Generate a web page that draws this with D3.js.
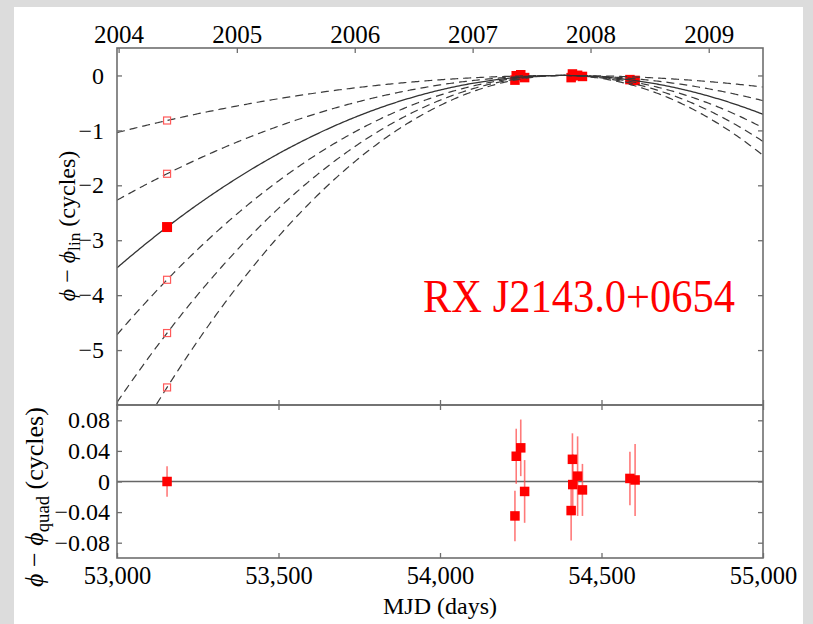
<!DOCTYPE html>
<html>
<head>
<meta charset="utf-8">
<script src="https://cdn.jsdelivr.net/npm/d3@7"></script>
<style>
  html, body { margin: 0; padding: 0; background: #dcdcdc; }
  svg { display: block; }
  text { font-family: "Liberation Serif", "Times New Roman", serif; fill: #000; }
</style>
</head>
<body>
<svg id="chart" width="813" height="624"></svg>
<script>
// Timing observations (MJD) and residuals from the best quadratic ephemeris
const obsMJD   = [53155, 54232, 54236, 54250, 54262, 54406, 54410, 54411, 54426, 54441, 54588, 54604];
const residual = [0.000, -0.045, 0.033, 0.044, -0.013, -0.038, 0.029, -0.004, 0.007, -0.011, 0.004, 0.002];
const residErr = [0.020, 0.033, 0.036, 0.037, 0.041, 0.039, 0.034, 0.040, 0.052, 0.034, 0.035, 0.047];

// Phase at the 2004 epoch for the preferred solution and for the alternative cycle counts
const epoch2004     = 53155;
const bestPhase2004 = -2.76;
const altPhase2004  = [-0.82, -1.79, -3.72, -4.69, -5.68];
const vertexMJD     = 54380;   // MJD where the quadratic solutions peak

// Axis ticks
const mjdTicks    = [53000, 53500, 54000, 54500, 55000];
const yearLabels  = ["2004", "2005", "2006", "2007", "2008", "2009"];
const yearMJD     = [53005, 53371, 53736, 54101, 54466, 54832];
const upperYTicks = [0, -1, -2, -3, -4, -5];
const lowerYTicks = [0.08, 0.04, 0, -0.04, -0.08];
const sourceName  = "RX J2143.0+0654";

const svg = d3.select("#chart");

// white page
svg.append("rect").attr("x", 14).attr("y", 7).attr("width", 789).attr("height", 617).attr("fill", "#fff");

const L = 117, R = 763, T = 48, M = 405, B = 558;

const x = d3.scaleLinear().domain([53000, 55000]).range([L, R]);
const yU = d3.scaleLinear().domain([-6, 0.5]).range([M, T]);
const yL = d3.scaleLinear().domain([-0.1, 0.1]).range([B, M]);

// quadratic phase solution passing through phase p at the 2004 epoch
const solution = p => t => p * Math.pow((t - vertexMJD) / (epoch2004 - vertexMJD), 2);
const best = solution(bestPhase2004);

svg.append("clipPath").attr("id", "clipU")
  .append("rect").attr("x", L).attr("y", T).attr("width", R - L).attr("height", M - T);

const gU = svg.append("g");
const gL = svg.append("g");

// ---- upper panel: recent points on the best solution
const recent = obsMJD.map((t, i) => ({t, r: residual[i]})).filter(d => d.t > 54000);
gU.selectAll("rect.pt").data(recent).join("rect")
  .attr("class", "pt")
  .attr("x", d => x(d.t) - 4.75).attr("y", d => yU(best(d.t) + d.r) - 4.75)
  .attr("width", 9.5).attr("height", 9.5).attr("fill", "#ff0000");

// model curves
const tGrid = d3.range(53000, 55001, 5);
const line = f => d3.line().x(t => x(t)).y(t => yU(f(t)))(tGrid);
const curves = gU.append("g").attr("clip-path", "url(#clipU)");
curves.selectAll("path.alt").data(altPhase2004).join("path")
  .attr("class", "alt")
  .attr("d", p => line(solution(p)))
  .attr("fill", "none").attr("stroke", "#3a3a3a").attr("stroke-width", 1.2)
  .attr("stroke-dasharray", "8,5");
curves.append("path")
  .attr("d", line(best))
  .attr("fill", "none").attr("stroke", "#333").attr("stroke-width", 1.3);

// 2004 points: alternatives as open squares, preferred as filled
gU.selectAll("rect.alt").data(altPhase2004).join("rect")
  .attr("class", "alt")
  .attr("x", x(epoch2004) - 3.5).attr("y", p => yU(p) - 3.5)
  .attr("width", 7).attr("height", 7)
  .attr("fill", "none").attr("stroke", "#ff5a5a").attr("stroke-width", 1.2);
gU.append("rect")
  .attr("x", x(epoch2004) - 5).attr("y", yU(bestPhase2004) - 5)
  .attr("width", 10).attr("height", 10).attr("fill", "#ff0000");

// source name
svg.append("text")
  .attr("x", 423).attr("y", 311.5)
  .attr("font-size", 47).attr("textLength", 312).attr("lengthAdjust", "spacingAndGlyphs")
  .style("fill", "#ff0000")
  .text(sourceName);

// ---- lower panel: residuals
gL.append("line").attr("x1", L).attr("x2", R).attr("y1", yL(0)).attr("y2", yL(0))
  .attr("stroke", "#666").attr("stroke-width", 1.5);
const res = obsMJD.map((t, i) => ({t, r: residual[i], e: residErr[i]}));
gL.selectAll("line.err").data(res).join("line")
  .attr("class", "err")
  .attr("x1", d => x(d.t)).attr("x2", d => x(d.t))
  .attr("y1", d => yL(d.r - d.e)).attr("y2", d => yL(d.r + d.e))
  .attr("stroke", "#ff4d4d").attr("stroke-opacity", 0.75).attr("stroke-width", 1.6);
gL.selectAll("rect.pt").data(res).join("rect")
  .attr("class", "pt")
  .attr("x", d => x(d.t) - 4.75).attr("y", d => yL(d.r) - 4.75)
  .attr("width", 9.5).attr("height", 9.5).attr("fill", "#ff0000");

// ---- axes
const axisColor = "#6e6e6e";
function styleAxis(g, fs) {
  g.select(".domain").remove();
  g.selectAll(".tick line").attr("stroke", axisColor).attr("stroke-width", 1.3);
  g.selectAll(".tick text").attr("font-size", fs).style("font-family", "'Liberation Serif', serif").attr("fill", "#000");
}
const fmtU = d3.format("d");
const fmtL = d => d === 0 ? "0" : d3.format(".2f")(d);

// upper panel axes
svg.append("g").attr("transform", `translate(${L},0)`)
  .call(d3.axisLeft(yU).tickValues(upperYTicks).tickFormat(fmtU).tickSize(-5).tickPadding(13))
  .call(g => styleAxis(g, 24));
svg.append("g").attr("transform", `translate(${R},0)`)
  .call(d3.axisRight(yU).tickValues(upperYTicks).tickFormat("").tickSize(-5))
  .call(g => styleAxis(g, 24));
svg.append("g").attr("transform", `translate(0,${T})`)
  .call(d3.axisTop(x).tickValues(yearMJD).tickFormat((d, i) => yearLabels[i]).tickSize(-5).tickPadding(5))
  .call(g => styleAxis(g, 25));
svg.append("g").attr("transform", `translate(0,${M})`)
  .call(d3.axisBottom(x).tickValues(mjdTicks).tickFormat("").tickSize(-5))
  .call(g => styleAxis(g, 24));

// lower panel axes
svg.append("g").attr("transform", `translate(${L},0)`)
  .call(d3.axisLeft(yL).tickValues(lowerYTicks).tickFormat(fmtL).tickSize(-5).tickPadding(7))
  .call(g => styleAxis(g, 24));
svg.append("g").attr("transform", `translate(${R},0)`)
  .call(d3.axisRight(yL).tickValues(lowerYTicks).tickFormat("").tickSize(-5))
  .call(g => styleAxis(g, 24));
svg.append("g").attr("transform", `translate(0,${M})`)
  .call(d3.axisTop(x).tickValues(mjdTicks).tickFormat("").tickSize(-5))
  .call(g => styleAxis(g, 24));
svg.append("g").attr("transform", `translate(0,${B})`)
  .call(d3.axisBottom(x).tickValues(mjdTicks).tickFormat(d3.format(",")).tickSize(-5).tickPadding(9))
  .call(g => styleAxis(g, 24.5));

// frames
[[T, M], [M, B]].forEach(([a, b]) => {
  svg.append("rect").attr("x", L).attr("y", a).attr("width", R - L).attr("height", b - a)
    .attr("fill", "none").attr("stroke", axisColor).attr("stroke-width", 1.6);
});

// axis titles
function phaseLabel(cx, cy, sub, fs) {
  const t = svg.append("text")
    .attr("transform", `translate(${cx},${cy}) rotate(-90)`)
    .attr("text-anchor", "middle").attr("font-size", fs);
  t.append("tspan").style("font-style", "italic").text("ϕ");
  t.append("tspan").text(" − ");
  t.append("tspan").style("font-style", "italic").text("ϕ");
  t.append("tspan").attr("font-size", fs * 0.72).attr("dy", fs * 0.22).text(sub);
  t.append("tspan").attr("dy", -fs * 0.22).text(" (cycles)");
}
phaseLabel(75, 226, "lin", 24);
phaseLabel(43, 497, "quad", 26);

svg.append("text").attr("x", (L + R) / 2).attr("y", 614)
  .attr("text-anchor", "middle").attr("font-size", 24).text("MJD (days)");
</script>
</body>
</html>
